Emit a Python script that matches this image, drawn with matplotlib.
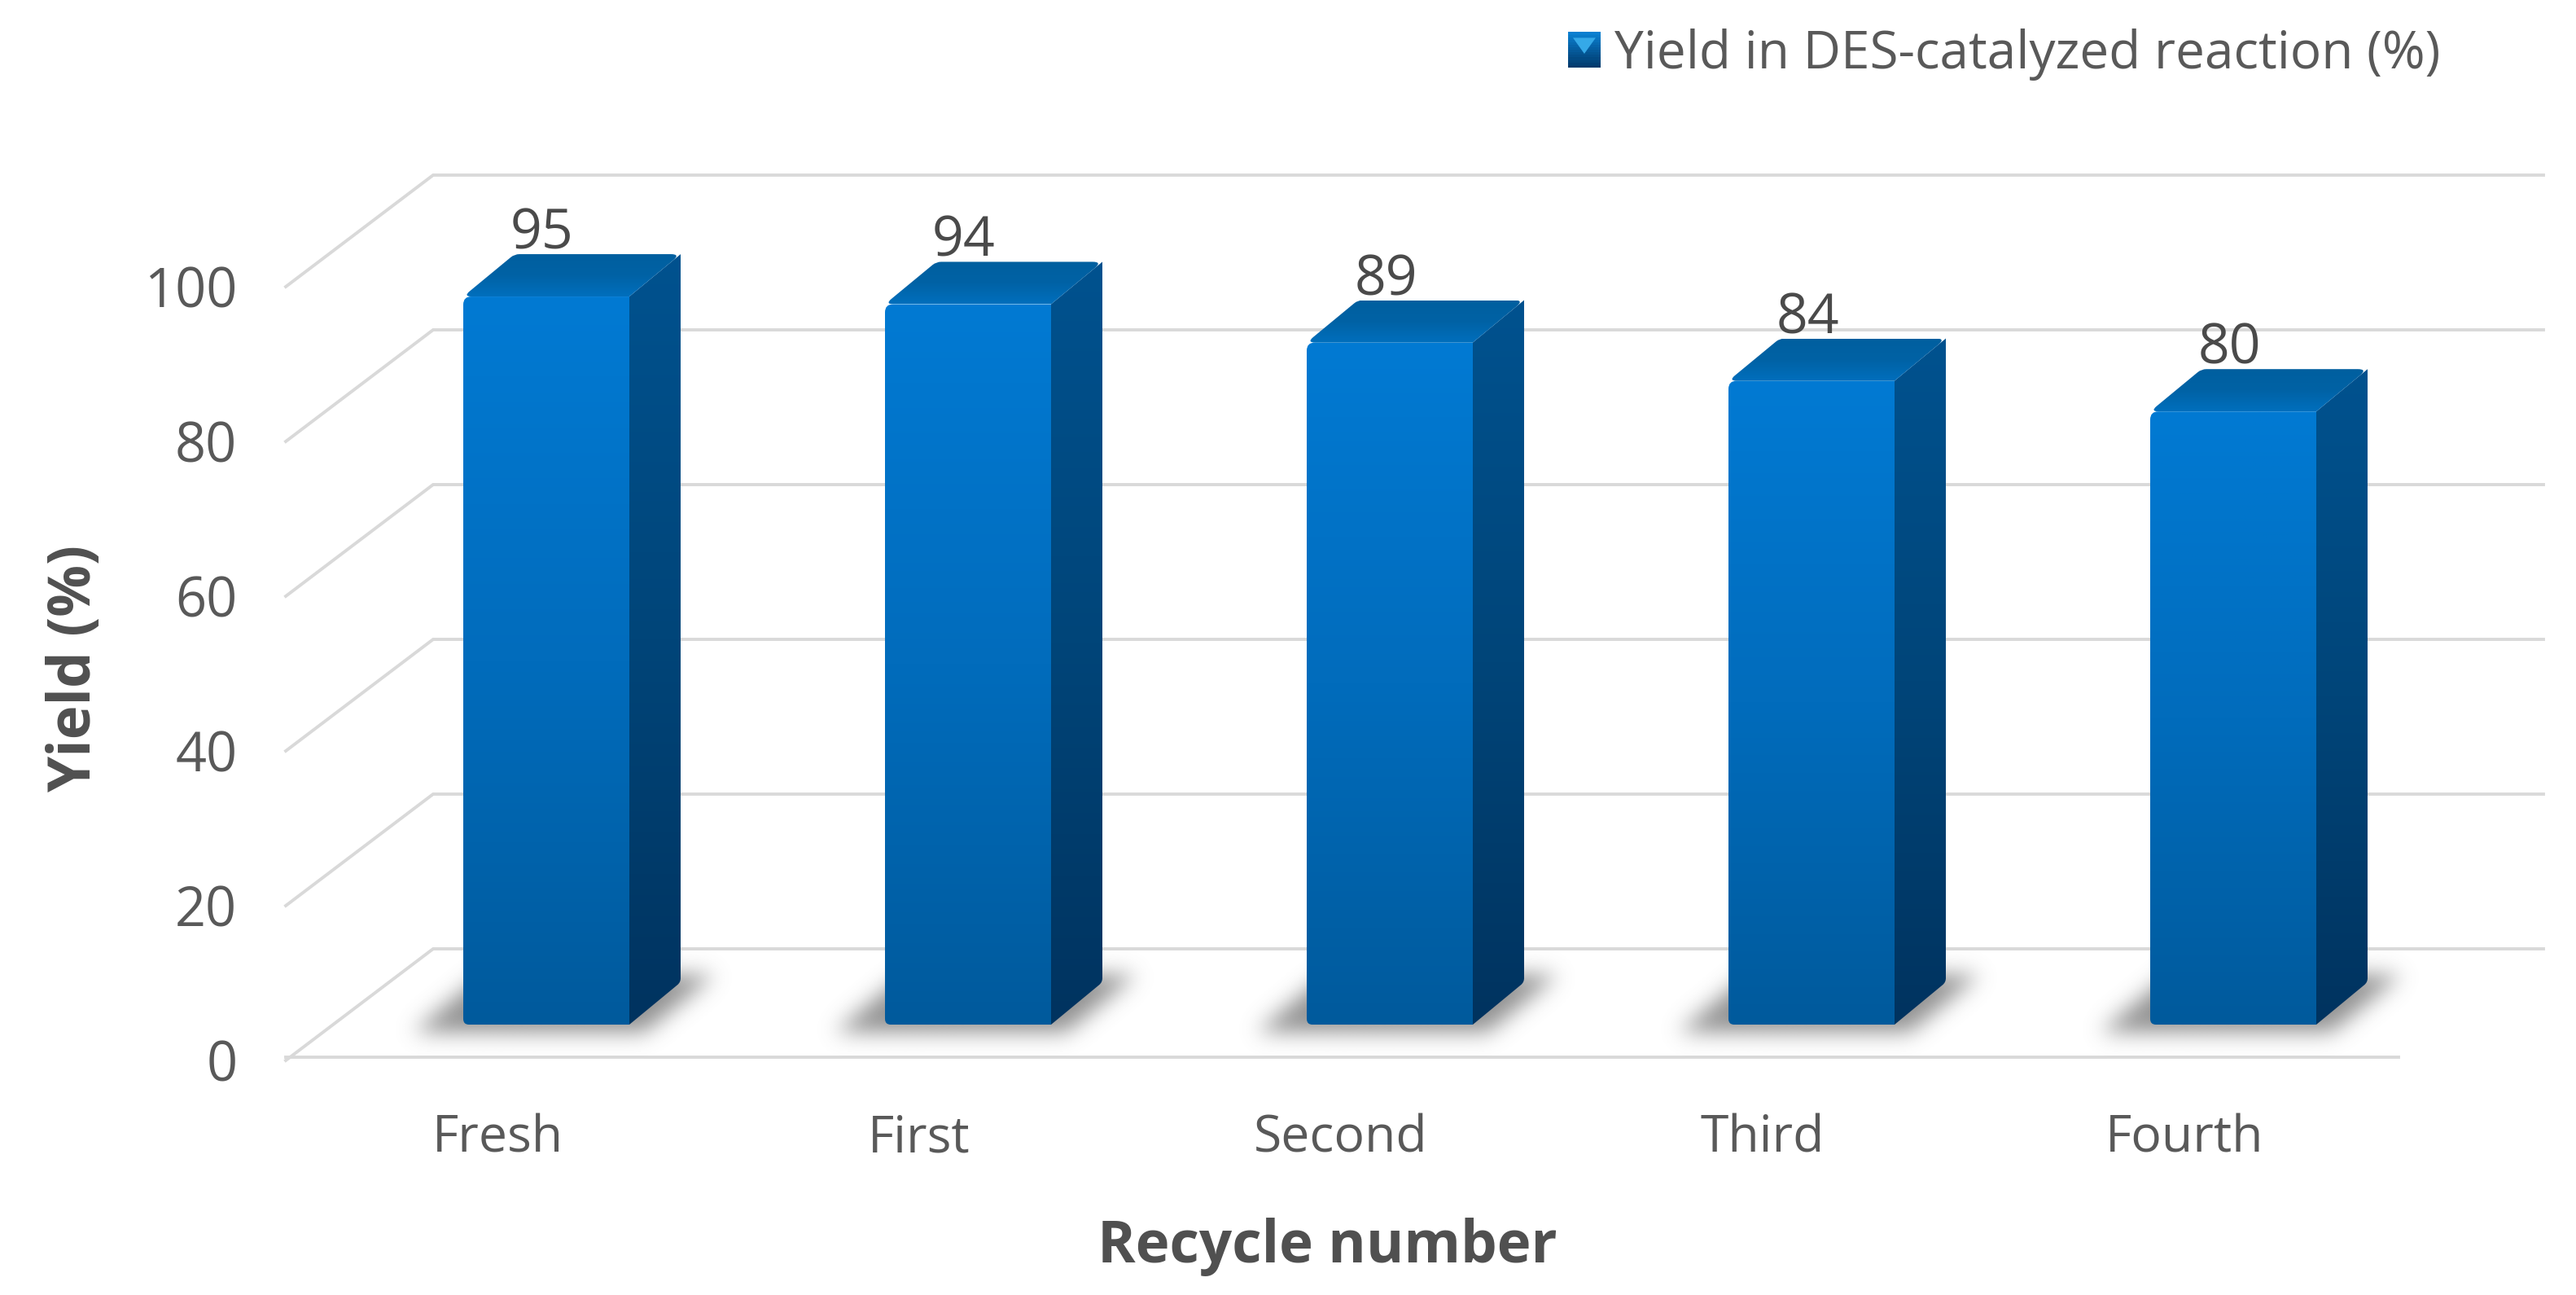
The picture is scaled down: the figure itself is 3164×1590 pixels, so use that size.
import numpy as np
import matplotlib
matplotlib.use("Agg")
import matplotlib.pyplot as plt
from matplotlib.colors import LinearSegmentedColormap, to_rgb
from matplotlib.legend_handler import HandlerBase
from matplotlib.patches import Patch, PathPatch, Polygon, Rectangle
from matplotlib.path import Path
from matplotlib.transforms import ScaledTranslation

plt.rcParams['font.family'] = ['Open Sans', 'DejaVu Sans']

# data
recycles = ["Fresh", "First", "Second", "Third", "Fourth"]
yields = [95, 94, 89, 84, 80]
y_ticks = [0, 20, 40, 60, 80, 100]
legend_label = "Yield in DES-catalyzed reaction (%)"

W, H = 3164, 1590
TEXT = "#595959"
GRID = "#d9d9d9"

# layout in pixels of the output picture
AX_L, AX_R, AX_T, AX_B = 351, 3124, 215, 1298
BAR0_X, BAR_STEP, BAR_W = 671, 518, 204
BAR0_Y, PX_PER_UNIT = 1258, 9.41
WALL_STEP_PX = 190
DEPTH_X, DEPTH_Y = 63, 52

x_per_px = 1 / BAR_STEP
y_per_px = 1 / PX_PER_UNIT
depth_x = DEPTH_X * x_per_px
depth_y = DEPTH_Y * y_per_px
half_w = BAR_W * x_per_px / 2
wall_step = WALL_STEP_PX * y_per_px / 20
floor_front = (BAR0_Y - AX_B) * y_per_px
floor_back = (BAR0_Y - 1165) * y_per_px
wall_left = (532 - BAR0_X) * x_per_px
front_left = (AX_L - BAR0_X) * x_per_px
wall_right = (AX_R - BAR0_X) * x_per_px
front_right = (2946 - BAR0_X) * x_per_px

fig = plt.figure(figsize=(W / 100, H / 100), dpi=100, facecolor="white")
ax = fig.add_axes([AX_L / W, 1 - AX_B / H, (AX_R - AX_L) / W, (AX_B - AX_T) / H])
xlim = (front_left, wall_right)
ylim = (floor_front, (BAR0_Y - AX_T) * y_per_px)


def rounded(verts, radii):
    # polygon path with some corners rounded, radius in pixels
    scale = np.array([BAR_STEP, PX_PER_UNIT])
    pts = np.array(verts, dtype=float)
    codes, out = [], []
    n = len(pts)
    for k in range(n):
        p, prev, nxt = pts[k], pts[k - 1], pts[(k + 1) % n]
        r = radii[k]
        if r == 0:
            out.append(p)
            codes.append(Path.LINETO)
            continue
        d1 = (prev - p) * scale
        d2 = (nxt - p) * scale
        a = p + (d1 / np.hypot(*d1) * r) / scale
        b = p + (d2 / np.hypot(*d2) * r) / scale
        out += [a, p, b]
        codes += [Path.LINETO, Path.CURVE3, Path.CURVE3]
    codes[0] = Path.MOVETO
    out.append(out[0])
    codes.append(Path.CLOSEPOLY)
    return Path(out, codes)


def grad_face(verts, radii, top, bottom, zorder, mid=None):
    # gradient image clipped to the face outline
    verts = np.array(verts)
    stops = [bottom, mid, top] if mid else [bottom, top]
    cmap = LinearSegmentedColormap.from_list("f", stops)
    g = np.linspace(1, 0, 256).reshape(-1, 1)
    im = ax.imshow(g, cmap=cmap, vmin=0, vmax=1, aspect="auto", zorder=zorder,
                   extent=(verts[:, 0].min(), verts[:, 0].max(), verts[:, 1].min(), verts[:, 1].max()))
    outline = PathPatch(rounded(verts, radii), fc="none", ec="none", transform=ax.transData)
    ax.add_patch(outline)
    im.set_clip_path(outline)


def shadow(cx):
    # blurred parallelogram on the floor, computed on a pixel grid
    xs = np.arange(-240, 320)
    ys = np.arange(-120, 60)
    gx, gy = np.meshgrid(xs, ys)
    shear = -gy * DEPTH_X / DEPTH_Y
    mask = ((gx - shear > -BAR_W / 2 - 50) & (gx - shear < BAR_W / 2 + 30) & (gy > -62) & (gy < 10)).astype(float)
    kernel = np.exp(-0.5 * (np.arange(-40, 41) / 13.0) ** 2)
    kernel /= kernel.sum()
    for axis in (0, 1):
        mask = np.apply_along_axis(lambda m: np.convolve(m, kernel, mode="same"), axis, mask)
    rgba = np.zeros(mask.shape + (4,))
    rgba[..., :3] = 0.4
    rgba[..., 3] = mask * 0.72
    ax.imshow(rgba, aspect="auto", zorder=2, interpolation="bilinear",
              extent=(cx + xs[0] * x_per_px, cx + xs[-1] * x_per_px,
                      -ys[-1] * y_per_px, -ys[0] * y_per_px))


# walls and floor
for v in y_ticks:
    yb = floor_back + v * wall_step
    yf = yb - 137 * y_per_px
    ax.plot([front_left, wall_left, wall_right], [yf, yb, yb], color=GRID, lw=2.8,
            solid_joinstyle="miter", zorder=1, clip_on=False)
ax.plot([front_left, front_right], [floor_front, floor_front], color=GRID, lw=2.8, zorder=1, clip_on=False)

# bars
for i, v in enumerate(yields):
    l, r = i - half_w, i + half_w
    shadow(i)
    grad_face([(l, 0), (r, 0), (r, v), (l, v)], [7, 0, 0, 10], "#017ad3", "#005a9c", 4, mid="#016cbc")
    grad_face([(r, 0), (r + depth_x, depth_y), (r + depth_x, v + depth_y), (r, v)], [0, 5, 0, 0],
              "#00528f", "#00335f", 4, mid="#004579")
    grad_face([(l, v), (r, v), (r + depth_x, v + depth_y), (l + depth_x, v + depth_y)], [10, 0, 12, 6],
              "#005f9f", "#016fbd", 5, mid="#0062a5")
    ax.text(i - 5 * x_per_px, v + 8.1, str(v), ha="center", va="center", fontsize=49, color="#4a4a4a", zorder=6)

ax.set_xlim(xlim)
ax.set_ylim(ylim)
for s in ax.spines.values():
    s.set_visible(False)
ax.patch.set_visible(False)

# tick labels sit on the front edge of the walls
ax.set_xticks(np.arange(len(recycles)) - 60 * x_per_px)
ax.set_xticklabels(recycles, fontsize=45, color=TEXT)
ax.set_yticks([floor_front + t * wall_step for t in y_ticks])
ax.set_yticklabels([str(t) for t in y_ticks], fontsize=48, color=TEXT)
ax.tick_params(axis="x", length=0, pad=50)
ax.tick_params(axis="y", length=0, pad=43)
shift = ScaledTranslation(0, -4 / fig.dpi, fig.dpi_scale_trans)
for lab in ax.get_yticklabels():
    lab.set_transform(lab.get_transform() + shift)

fig.text(92 / W, 1 - 821 / H, "Yield (%)", rotation=90, ha="center", va="center",
         fontsize=51, fontweight="bold", color="#505050")
fig.text(1630 / W, 1 - 1531 / H, "Recycle number", ha="center", va="center",
         fontsize=51, fontweight="bold", color="#505050")


class GradientSwatch(HandlerBase):
    def create_artists(self, legend, orig, xd, yd, width, height, fontsize, trans):
        out = []
        c1, c2 = np.array(to_rgb("#0a7fd0")), np.array(to_rgb("#003a6c"))
        n = 14
        for k in range(n):
            c = c1 + (c2 - c1) * k / (n - 1)
            out.append(Rectangle((-xd, -yd + height * (1 - (k + 1) / n)), width, height / n + 0.3,
                                 fc=c, ec="none", transform=trans))
        tri = Polygon([(-xd + width * 0.15, -yd + height * 0.85), (-xd + width * 0.85, -yd + height * 0.85),
                       (-xd + width * 0.5, -yd + height * 0.4)], fc="#35a9e8", ec="none", transform=trans)
        out.append(tri)
        return out


handle = Patch(color="#005a9c", label=legend_label)
fig.legend(handles=[handle], handler_map={Patch: GradientSwatch()}, loc="center left",
           bbox_to_anchor=(1926 / W, 1 - 67 / H), frameon=False, fontsize=46, labelcolor=TEXT,
           handlelength=0.625, handleheight=0.67, handletextpad=0.27, borderpad=0, borderaxespad=0)

fig.savefig("out.png", dpi=100)
